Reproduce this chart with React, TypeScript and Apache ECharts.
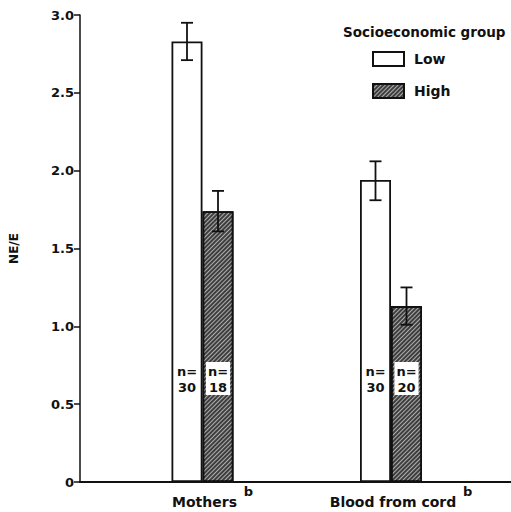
import React, { useEffect, useRef } from "react";
import * as echarts from "echarts";

const categories = ["Mothers", "Blood from cord"];
const seriesNames = ["Low", "High"];
const lowMeans = [2.83, 1.94];
const lowErrHigh = [2.95, 2.06];
const lowErrLow = [2.71, 1.81];
const highMeans = [1.74, 1.13];
const highErrHigh = [1.87, 1.25];
const highErrLow = [1.61, 1.01];
const lowN = [30, 30];
const highN = [18, 20];
const yTicks = [0, 0.5, 1.0, 1.5, 2.0, 2.5, 3.0];

const FONT = "DejaVu Sans";
const BAR_W = 31;

export default function App() {
  const ref = useRef<HTMLDivElement>(null);
  useEffect(() => {
    document.body.style.margin = "0";
    const chart = echarts.init(ref.current!, null, { renderer: "svg" });
    const errData = (lo: number[], hi: number[]) => lo.map((l, i) => [i, l, hi[i]]);
    const errSeries = (lo: number[], hi: number[], offset: number) => ({
      type: "custom",
      xAxisIndex: 1,
      yAxisIndex: 1,
      z: 10,
      silent: true,
      data: errData(lo, hi),
      renderItem: (params: any, api: any) => {
        const i = api.value(0);
        const pLo = api.coord([i, api.value(1)]);
        const pHi = api.coord([i, api.value(2)]);
        const x = pLo[0] + offset;
        const cap = 6;
        const st = { stroke: "#111", lineWidth: 1.8 };
        return {
          type: "group",
          children: [
            { type: "line", shape: { x1: x, y1: pLo[1], x2: x, y2: pHi[1] }, style: st },
            { type: "line", shape: { x1: x - cap, y1: pLo[1], x2: x + cap, y2: pLo[1] }, style: st },
            { type: "line", shape: { x1: x - cap, y1: pHi[1], x2: x + cap, y2: pHi[1] }, style: st },
          ],
        };
      },
    });
    const labelBase = {
      show: true,
      position: "insideBottom",
      distance: 87,
      fontFamily: FONT,
      fontWeight: "bold",
      fontSize: 13,
      lineHeight: 16,
      color: "#111",
    };
    chart.setOption({
      animation: false,
      backgroundColor: "#fff",
      title: {
        text: "Socioeconomic group",
        left: 343,
        top: 25,
        padding: 0,
        textStyle: { fontFamily: FONT, fontWeight: "bold", fontSize: 13.5, color: "#111" },
      },
      legend: {
        orient: "vertical",
        left: 367,
        top: 46,
        icon: "rect",
        itemWidth: 31,
        itemHeight: 14,
        itemGap: 16,
        data: seriesNames,
        textStyle: { fontFamily: FONT, fontWeight: "bold", fontSize: 14, color: "#111", padding: [0, 0, 0, 5] },
      },
      grid: [
        { left: 77, right: 0, top: 15, bottom: 30 },
        { left: 108.25, right: 25.75, top: 15, bottom: 30 },
      ],
      xAxis: [
        {
          type: "value",
          gridIndex: 0,
          min: 0,
          max: 1,
          axisLine: { show: true, lineStyle: { color: "#111", width: 2 } },
          axisTick: { show: false },
          axisLabel: { show: false },
          splitLine: { show: false },
        },
        {
          type: "category",
          gridIndex: 1,
          data: categories,
          axisLine: { show: false },
          axisTick: { show: false },
          axisLabel: {
            margin: 3,
            padding: [0, 0, 0, 20],
            formatter: (v: string) => `{a|${v}}  {b|b}`,
            rich: {
              a: { fontFamily: FONT, fontWeight: "bold", fontSize: 14, color: "#111", lineHeight: 24, verticalAlign: "bottom" },
              b: { fontFamily: FONT, fontWeight: "bold", fontSize: 13, color: "#111", lineHeight: 24, verticalAlign: "top" },
            },
          },
        },
      ],
      yAxis: [
        {
          type: "value",
          gridIndex: 0,
          min: 0,
          max: 3,
          interval: 0.5,
          name: "NE/E",
          nameLocation: "middle",
          nameGap: 60,
          nameTextStyle: { fontFamily: FONT, fontWeight: "bold", fontSize: 12, color: "#111" },
          axisLine: { show: true, lineStyle: { color: "#111", width: 1.5 } },
          axisTick: { show: true, length: 6, lineStyle: { color: "#111", width: 1.5 } },
          axisLabel: {
            margin: 6,
            fontFamily: FONT,
            fontWeight: "bold",
            fontSize: 13,
            color: "#111",
            customValues: yTicks,
            formatter: (v: number) => (v === 0 ? "0" : v.toFixed(1)),
          },
          splitLine: { show: false },
        },
        {
          type: "value",
          gridIndex: 1,
          min: 0,
          max: 3,
          interval: 0.5,
          show: false,
          splitLine: { show: false },
        },
      ],
      series: [
        {
          name: "Low",
          type: "bar",
          xAxisIndex: 1,
          yAxisIndex: 1,
          barWidth: BAR_W,
          barGap: "0%",
          data: lowMeans,
          itemStyle: { color: "#ffffff", borderColor: "#111", borderWidth: 1.8 },
          label: { ...labelBase, formatter: (p: any) => `n=\n${lowN[p.dataIndex]}` },
        },
        {
          name: "High",
          type: "bar",
          xAxisIndex: 1,
          yAxisIndex: 1,
          barWidth: BAR_W,
          barGap: "0%",
          data: highMeans,
          itemStyle: {
            color: "#3e3e3e",
            borderColor: "#111",
            borderWidth: 1.8,
            decal: {
              symbol: "rect",
              symbolSize: 1,
              dashArrayX: [1, 0],
              dashArrayY: [1, 1.5],
              rotation: -Math.PI / 4,
              color: "rgba(210,210,210,0.75)",
            },
          },
          label: {
            ...labelBase,
            backgroundColor: "#fff",
            padding: [1, 2, 0, 2],
            formatter: (p: any) => `n=\n${highN[p.dataIndex]}`,
          },
        },
        errSeries(lowErrLow, lowErrHigh, -BAR_W / 2),
        errSeries(highErrLow, highErrHigh, BAR_W / 2),
      ],
    });
    return () => chart.dispose();
  }, []);
  return <div ref={ref} style={{ width: 511, height: 512 }} />;
}
